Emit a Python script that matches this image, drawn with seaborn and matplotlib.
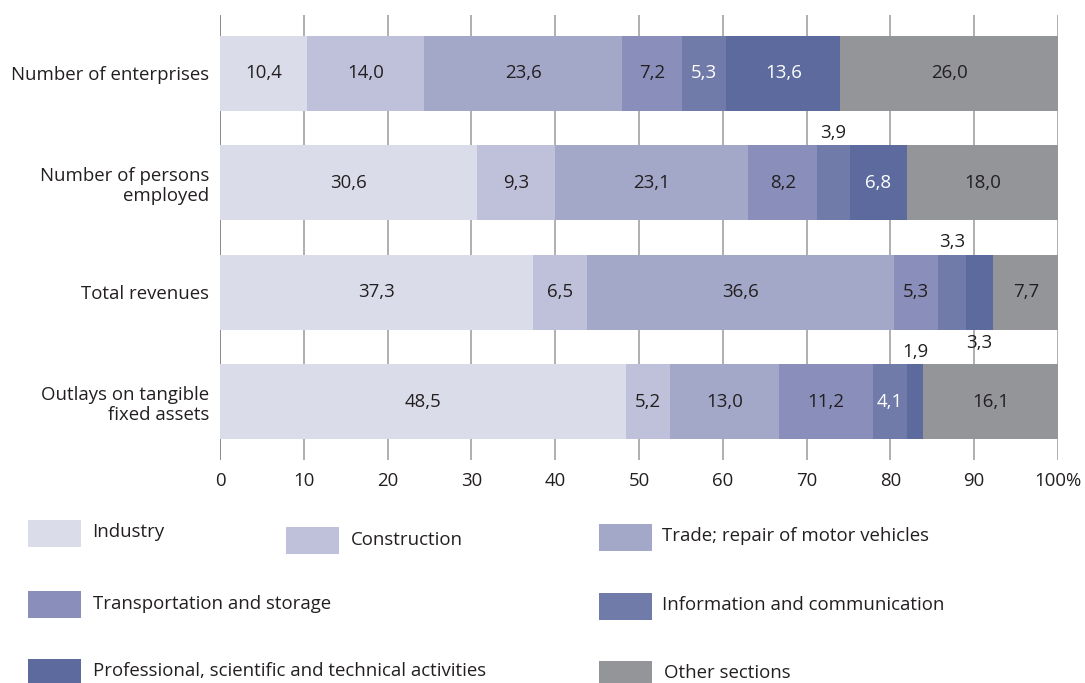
import matplotlib
matplotlib.use("Agg")
import matplotlib.pyplot as plt
from matplotlib.patches import Rectangle
import seaborn as sns
import pandas as pd
import numpy as np

# ---- data ----
categories = ["Number of enterprises", "Number of persons\nemployed",
              "Total revenues", "Outlays on tangible\nfixed assets"]
series_names = ["Industry", "Construction", "Trade; repair of motor vehicles",
                "Transportation and storage", "Information and communication",
                "Professional, scientific and technical activities", "Other sections"]
industry = [10.4, 30.6, 37.3, 48.5]
construction = [14.0, 9.3, 6.5, 5.2]
trade = [23.6, 23.1, 36.6, 13.0]
transport = [7.2, 8.2, 5.3, 11.2]
info = [5.3, 3.9, 3.3, 4.1]
professional = [13.6, 6.8, 3.3, 1.9]
other = [26.0, 18.0, 7.7, 16.1]
tick_values = [0, 10, 20, 30, 40, 50, 60, 70, 80, 90, 100]
tick_labels = ["0", "10", "20", "30", "40", "50", "60", "70", "80", "90", "100%"]

series = [industry, construction, trade, transport, info, professional, other]
colors = ["#dbdce9", "#bfc0d9", "#a3a7c8", "#8a8eba", "#717ba9", "#5c6a9e", "#939598"]
text_dark = "#231f20"
label_colors = [text_dark, text_dark, text_dark, text_dark, "white", "white", text_dark]

FONT = "Open Sans"
FS = 13.4

sns.set_theme(style="white")
plt.rcParams["font.family"] = [FONT, "DejaVu Sans"]

W, H = 1085, 683
fig = plt.figure(figsize=(W / 100, H / 100), dpi=100)
ax = fig.add_axes([220 / W, 1 - 460 / H, (1058 - 220) / W, (460 - 15) / H])

vals = np.array(series)  # shape (7, 4)
cum = np.cumsum(vals, axis=0)
# scale so that every bar ends exactly at 100
cum = cum / cum[-1] * 100.0
starts = np.vstack([np.zeros(len(categories)), cum[:-1]])

# gridlines behind bars
for t in tick_values:
    ax.axvline(t, color="#808080" if t == 0 else "#a9a9a9", lw=1.3, zorder=0)

# stacked bars: draw cumulative totals from the last layer back to the first
for i in range(len(series) - 1, -1, -1):
    df = pd.DataFrame({"cat": categories, "val": cum[i]})
    sns.barplot(data=df, x="val", y="cat", orient="h", color=colors[i],
                width=0.685, saturation=1, ax=ax, zorder=2, linewidth=0)

# value labels
bar_h = 0.685
for j in range(len(categories)):
    prev_outside_above = False
    for i in range(len(series)):
        v = series[i][j]
        center = (starts[i][j] + cum[i][j]) / 2
        txt = f"{v:.1f}".replace(".", ",")
        if v < 4.0:
            if not prev_outside_above:
                ax.text(center, j - bar_h / 2 - 0.03, txt, ha="center", va="bottom",
                        fontsize=FS, color=text_dark, zorder=4)
                prev_outside_above = True
            else:
                ax.text(center, j + bar_h / 2 + 0.04, txt, ha="center", va="top",
                        fontsize=FS, color=text_dark, zorder=4)
                prev_outside_above = False
        else:
            ax.text(center, j, txt, ha="center", va="center", fontsize=FS,
                    color=label_colors[i], zorder=4)

ax.set_xlim(0, 100)
ax.set_ylim(3.53, -0.53)
ax.set_xticks(tick_values)
ax.set_xticklabels(tick_labels, fontsize=FS, color=text_dark)
ax.set_yticks(range(len(categories)))
ax.set_yticklabels(categories, fontsize=FS, color=text_dark, linespacing=1.15)
ax.tick_params(axis="x", length=0, pad=9)
ax.tick_params(axis="y", length=0, pad=8)
ax.set_xlabel("")
ax.set_ylabel("")
for s in ax.spines.values():
    s.set_visible(False)
ax.grid(False)

# legend (manual layout, figure pixel coordinates)
legend_pos = [
    (28, 520, 92, 532),
    (286, 527, 351, 540),
    (599, 524, 662, 536),
    (28, 591, 93, 604),
    (599, 593, 662, 605),
    (28, 659, 93, 671),
    (599, 661, 664, 673),
]
pw, ph = 53, 27
for name, col, (px, py, tx, ty) in zip(series_names, colors, legend_pos):
    fig.add_artist(Rectangle((px / W, 1 - (py + ph) / H), pw / W, ph / H,
                             transform=fig.transFigure, facecolor=col,
                             edgecolor="none"))
    fig.text(tx / W, 1 - ty / H, name, ha="left", va="center",
             fontsize=FS, color=text_dark)

fig.savefig("out.png", dpi=100)
